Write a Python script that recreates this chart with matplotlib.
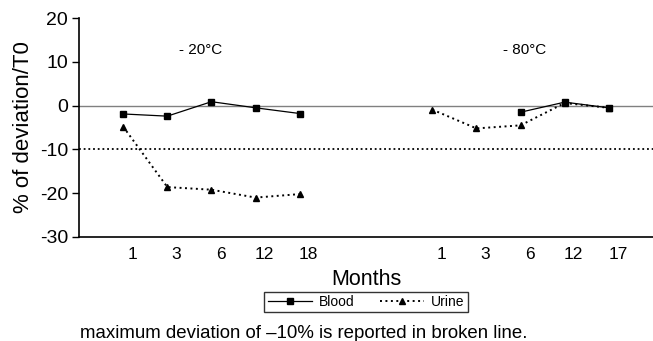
#!/usr/bin/env python3
"""
Stability plot: % deviation from T0 for blood and urine samples at -20 and -80 C.
"""

import matplotlib
matplotlib.use("Agg")
import matplotlib.pyplot as plt
import matplotlib.transforms as mtransforms
import numpy as np

plt.rcParams["font.family"] = ["Liberation Sans", "DejaVu Sans"]
plt.rcParams["axes.unicode_minus"] = False

# -20 C group
months_20 = ["1", "3", "6", "12", "18"]
blood_20 = [-1.9, -2.4, 0.9, -0.5, -1.8]
urine_20 = [-4.8, -18.6, -19.2, -21.0, -20.2]

# -80 C group (blood not measured at 1 and 3 months)
months_80 = ["1", "3", "6", "12", "17"]
blood_80 = [np.nan, np.nan, -1.5, 0.8, -0.5]
urine_80 = [-0.9, -5.2, -4.5, 0.6, -0.5]

threshold = -10


def main() -> None:
    fig = plt.figure(figsize=(6.53, 3.41), dpi=100)
    ax = fig.add_axes([0.121, 0.305, 0.879, 0.642])

    x20 = np.arange(1, 6)
    x80 = np.arange(8, 13)

    ax.axhline(0, color="#808080", lw=1.0, zorder=1)
    ax.axhline(threshold, color="black", lw=1.3, ls=(0, (1, 1.6)), zorder=1)

    blood_kw = dict(color="black", lw=0.9, marker="s", ms=4.5)
    urine_kw = dict(color="black", lw=1.4, ls=(0, (1, 1.8)), marker="^", ms=5)

    ax.plot(x20, blood_20, label="Blood", zorder=3, **blood_kw)
    ax.plot(x20, urine_20, label="Urine", zorder=2, **urine_kw)
    ax.plot(x80, blood_80, zorder=3, **blood_kw)
    ax.plot(x80, urine_80, zorder=2, **urine_kw)

    ax.set_xlim(0, 13)
    ax.set_ylim(-30, 20)
    ax.set_yticks([-30, -20, -10, 0, 10, 20])
    ax.tick_params(axis="y", labelsize=14, length=5, width=1, direction="out", pad=3)

    ax.set_xticks(np.concatenate([x20, x80]))
    ax.set_xticklabels(months_20 + months_80)
    ax.tick_params(axis="x", labelsize=12.5, length=0, pad=7)
    offset = mtransforms.ScaledTranslation(9 / 100, 0, fig.dpi_scale_trans)
    for lab in ax.get_xticklabels():
        lab.set_transform(lab.get_transform() + offset)

    for side in ["top", "right"]:
        ax.spines[side].set_visible(False)
    ax.spines["left"].set_linewidth(1.2)
    ax.spines["bottom"].set_linewidth(1.2)

    ax.set_ylabel("% of deviation/T0", fontsize=16, labelpad=4)
    ax.set_xlabel("Months", fontsize=15.5, labelpad=5)

    ax.text(2.75, 12.7, "- 20\u00b0C", fontsize=11, ha="center", va="center")
    ax.text(10.1, 12.7, "- 80\u00b0C", fontsize=11, ha="center", va="center")

    handles, labels = ax.get_legend_handles_labels()
    fig.legend(
        handles,
        labels,
        loc="center",
        bbox_to_anchor=(366 / 653, 1 - 302 / 341),
        ncol=2,
        fontsize=10,
        frameon=True,
        fancybox=False,
        edgecolor="black",
        handlelength=3.2,
        columnspacing=1.8,
        borderpad=0.25,
        handletextpad=0.5,
        borderaxespad=0,
    ).get_frame().set_linewidth(1.0)

    fig.text(
        80 / 653,
        1 - 333 / 341,
        "maximum deviation of \u201310% is reported in broken line.",
        fontsize=13.4,
        ha="left",
        va="center",
    )

    fig.savefig("out.png", dpi=100)
    plt.close(fig)


if __name__ == "__main__":
    main()
